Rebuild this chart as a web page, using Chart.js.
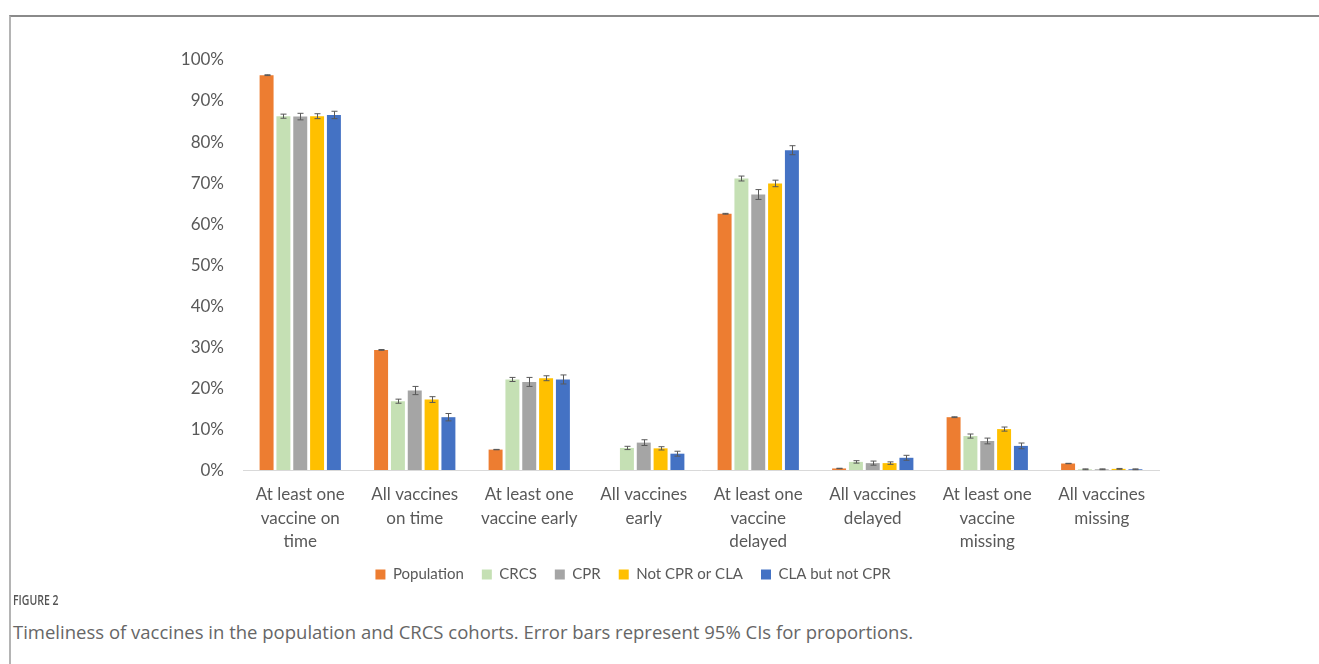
<!DOCTYPE html>
<html>
<head>
<meta charset="utf-8">
<script src="https://cdn.jsdelivr.net/npm/chart.js@4/dist/chart.umd.min.js"></script>
<style>
  html, body { margin: 0; padding: 0; background: #fff; }
  body { width: 1319px; height: 664px; position: relative; overflow: hidden; }
  .frame { position: absolute; left: 9px; top: 15px; right: 0; bottom: -2px;
           border-top: 2px solid #8a8a8a; border-left: 2px solid #b4b4b4; }
  #wrap { position: absolute; left: 0; top: 17px; width: 1319px; height: 575px; }
  .fig { position: absolute; left: 13px; top: 589px; font-family: "Open Sans", sans-serif;
         font-size: 15px; font-weight: 600; color: #555; transform: scaleX(0.7); transform-origin: left top; }
  .cap { position: absolute; left: 13px; top: 619px; font-family: "Open Sans", sans-serif;
         font-size: 18.5px; color: #666; white-space: nowrap; }
</style>
</head>
<body>
<div class="frame"></div>
<div id="wrap"><canvas id="c"></canvas></div>
<div class="fig">FIGURE 2</div>
<div class="cap">Timeliness of vaccines in the population and CRCS cohorts. Error bars represent 95% CIs for proportions.</div>
<script>
// Outcome categories (x axis)
const categories = [
  ["At least one", "vaccine on", "time"],
  ["All vaccines", "on time"],
  ["At least one", "vaccine early"],
  ["All vaccines", "early"],
  ["At least one", "vaccine", "delayed"],
  ["All vaccines", "delayed"],
  ["At least one", "vaccine", "missing"],
  ["All vaccines", "missing"]
];

// Percentages per cohort
const population = [96.3, 29.3, 5.0, 0.0, 62.5, 0.4, 12.9, 1.6];
const crcs       = [86.3, 16.8, 22.1, 5.4, 71.1, 2.0, 8.3, 0.2];
const cpr        = [86.2, 19.4, 21.5, 6.7, 67.2, 1.7, 7.1, 0.2];
const notCprCla  = [86.3, 17.2, 22.4, 5.3, 69.9, 1.7, 10.0, 0.3];
const claNotCpr  = [86.6, 12.9, 22.1, 4.0, 78.0, 3.0, 5.9, 0.2];

// Half-widths of the 95% confidence intervals
const populationCI = [0.1, 0.1, 0.05, 0.0, 0.1, 0.05, 0.1, 0.05];
const crcsCI       = [0.5, 0.5, 0.5, 0.4, 0.6, 0.3, 0.5, 0.1];
const cprCI        = [0.8, 1.0, 1.1, 0.7, 1.2, 0.5, 0.7, 0.1];
const notCprClaCI  = [0.6, 0.7, 0.6, 0.4, 0.8, 0.3, 0.5, 0.1];
const claNotCprCI  = [0.9, 0.9, 1.1, 0.6, 1.1, 0.6, 0.7, 0.1];

// Y axis ticks
const yTicks = [0, 10, 20, 30, 40, 50, 60, 70, 80, 90, 100];

const seriesNames = ["Population", "CRCS", "CPR", "Not CPR or CLA", "CLA but not CPR"];
const seriesColors = ["#ED7D31", "#C5E0B4", "#A5A5A5", "#FFC000", "#4472C4"];
const seriesData = [population, crcs, cpr, notCprCla, claNotCpr];
const seriesCI = [populationCI, crcsCI, cprCI, notCprClaCI, claNotCprCI];

const datasets = seriesNames.map((name, i) => ({
  label: name,
  data: seriesData[i],
  ci: seriesCI[i],
  backgroundColor: seriesColors[i],
  borderWidth: 0,
  categoryPercentage: 0.735,
  barPercentage: 0.83
}));

// Draws the confidence-interval whiskers on top of each bar
const errorBars = {
  id: "errorBars",
  afterDatasetsDraw(chart) {
    const ctx = chart.ctx;
    const y = chart.scales.y;
    ctx.save();
    ctx.strokeStyle = "#595959";
    ctx.lineWidth = 1;
    chart.data.datasets.forEach((ds, di) => {
      const meta = chart.getDatasetMeta(di);
      meta.data.forEach((bar, j) => {
        const v = ds.data[j], e = ds.ci[j];
        if (!e || !v) return;
        const x = Math.round(bar.x) + 0.5;
        const y1 = y.getPixelForValue(v + e);
        const y2 = y.getPixelForValue(v - e);
        const cap = 3;
        ctx.beginPath();
        ctx.moveTo(x, y1); ctx.lineTo(x, y2);
        ctx.moveTo(x - cap, y1); ctx.lineTo(x + cap, y1);
        ctx.moveTo(x - cap, y2); ctx.lineTo(x + cap, y2);
        ctx.stroke();
      });
    });
    ctx.restore();
  }
};

const padLeft = 107;

new Chart(document.getElementById("c"), {
  type: "bar",
  data: { labels: categories, datasets },
  plugins: [errorBars],
  options: {
    responsive: true,
    maintainAspectRatio: false,
    animation: false,
    layout: { padding: { left: padLeft, right: 160, top: 43, bottom: 0 } },
    plugins: {
      legend: {
        position: "bottom",
        labels: {
          boxWidth: 10, boxHeight: 10, padding: 18,
          color: "#595959",
          font: { family: "Lato", size: 15 }
        }
      },
      tooltip: { enabled: false }
    },
    scales: {
      x: {
        grid: { display: false, drawTicks: false },
        border: { color: "#D9D9D9", width: 1 },
        afterFit(scale) {
          // tighten the gap between the category labels and the legend,
          // and let the last label line draw past the shortened box
          scale.height -= 17;
          scale._computeLabelArea = () => undefined;
        },
        ticks: {
          color: "#595959", padding: 12, maxRotation: 0, autoSkip: false,
          font: { family: "Lato", size: 17, lineHeight: 1.41 }
        }
      },
      y: {
        min: 0, max: 100,
        afterFit(scale) { scale.width = 243 - padLeft; },
        afterBuildTicks(scale) { scale.ticks = yTicks.map(v => ({ value: v })); },
        grid: { display: false, drawTicks: false },
        border: { display: false },
        ticks: {
          color: "#595959", padding: 19,
          font: { family: "Lato", size: 17 },
          callback: v => v + "%"
        }
      }
    }
  }
});
</script>
</body>
</html>
